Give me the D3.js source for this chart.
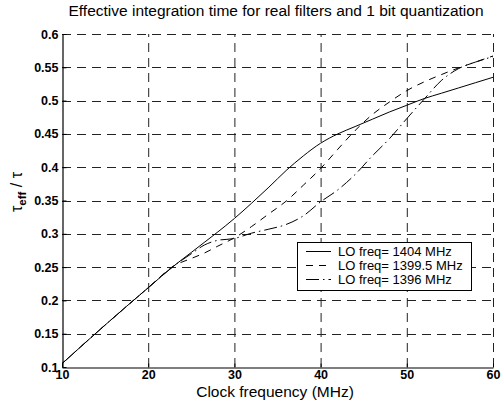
<!DOCTYPE html>
<html>
<head>
<meta charset="utf-8">
<script src="https://cdn.jsdelivr.net/npm/d3@7"></script>
<style>
  html, body { margin: 0; padding: 0; background: #fff; }
  svg { display: block; font-family: "Liberation Sans", Arial, sans-serif; }
</style>
</head>
<body>
<svg id="chart" width="503" height="406"></svg>
<script>
// ---- data ----
const freqMHz = [10, 15, 20, 23, 25, 26.5, 28, 30, 32, 34, 36, 38, 40, 42, 44, 46, 48, 50, 52, 54, 56, 58, 60];
const lo1404   = [0.105, 0.163, 0.219, 0.252, 0.272, 0.287, 0.302, 0.323, 0.346, 0.370, 0.395, 0.417, 0.436, 0.450, 0.461, 0.472, 0.483, 0.493, 0.503, 0.511, 0.519, 0.527, 0.535];
const lo1399_5 = [0.105, 0.163, 0.219, 0.252, 0.263, 0.271, 0.281, 0.294, 0.311, 0.330, 0.349, 0.373, 0.398, 0.427, 0.455, 0.479, 0.498, 0.515, 0.528, 0.539, 0.549, 0.558, 0.567];
const lo1396   = [0.105, 0.163, 0.219, 0.252, 0.270, 0.283, 0.290, 0.293, 0.301, 0.307, 0.314, 0.327, 0.348, 0.366, 0.389, 0.417, 0.443, 0.473, 0.502, 0.530, 0.548, 0.558, 0.566];
const seriesNames = ["LO freq= 1404 MHz", "LO freq= 1399.5 MHz", "LO freq= 1396 MHz"];
const xTicks = [10, 20, 30, 40, 50, 60];
const yTicks = [0.1, 0.15, 0.2, 0.25, 0.3, 0.35, 0.4, 0.45, 0.5, 0.55, 0.6];
const titleText = "Effective integration time for real filters and 1 bit quantization";
const xLabelText = "Clock frequency (MHz)";

// ---- layout ----
const L = 62, R = 493, T = 34, B = 367;
const svg = d3.select("#chart");
const x = d3.scaleLinear().domain([10, 60]).range([L, R]);
const y = d3.scaleLinear().domain([0.1, 0.6]).range([B, T]);

const styles = [
  { dash: null },
  { dash: "7,6" },
  { dash: "13,4,1.5,4" }
];

// grid
const grid = svg.append("g").attr("stroke", "#222").attr("stroke-width", 1).attr("stroke-dasharray", "9,6").attr("fill", "none");
xTicks.filter(t => t > 10).forEach(t => {
  grid.append("line").attr("x1", x(t) + 0.5).attr("x2", x(t) + 0.5).attr("y1", B).attr("y2", T);
});
yTicks.filter(t => t > 0.1).forEach(t => {
  grid.append("line").attr("x1", L).attr("x2", R).attr("y1", Math.round(y(t)) + 0.5).attr("y2", Math.round(y(t)) + 0.5);
});

// axes
const xAxis = d3.axisBottom(x).tickValues(xTicks).tickFormat(d3.format("d")).tickSizeInner(-4).tickSizeOuter(0).tickPadding(3);
const yAxis = d3.axisLeft(y).tickValues(yTicks).tickFormat(d => String(+d.toFixed(2))).tickSizeInner(-4).tickSizeOuter(0).tickPadding(4);

const gx = svg.append("g").attr("transform", `translate(0,${B + 0.5})`).call(xAxis);
const gy = svg.append("g").attr("transform", `translate(${L + 0.5},0)`).call(yAxis);
[gx, gy].forEach(g => {
  g.select(".domain").attr("stroke", "#000").attr("stroke-width", 1.2);
  g.selectAll(".tick line").attr("stroke", "#000");
  g.selectAll(".tick text").attr("fill", "#000").attr("font-size", 12.5).attr("font-weight", "bold")
    .attr("font-family", "'Liberation Sans', Arial, sans-serif");
});

// lines
const data = [lo1404, lo1399_5, lo1396];
const lineGen = d3.line().x(d => x(d[0])).y(d => y(d[1])).curve(d3.curveMonotoneX);
data.forEach((vals, i) => {
  const pts = freqMHz.map((f, j) => [f, vals[j]]);
  svg.append("path").datum(pts).attr("d", lineGen)
    .attr("fill", "none").attr("stroke", "#000").attr("stroke-width", 1)
    .attr("stroke-dasharray", styles[i].dash);
});

// legend
const lg = svg.append("g");
lg.append("rect").attr("x", 297.5).attr("y", 242.5).attr("width", 174).attr("height", 48)
  .attr("fill", "#fff").attr("stroke", "#000").attr("stroke-width", 1);
seriesNames.forEach((name, i) => {
  const yy = 251 + i * 14;
  lg.append("line").attr("x1", 306).attr("x2", 331).attr("y1", yy + 0.5).attr("y2", yy + 0.5)
    .attr("stroke", "#000").attr("stroke-width", 1).attr("stroke-dasharray", styles[i].dash);
  lg.append("text").attr("x", 338).attr("y", yy + 5).attr("font-size", 13).text(name);
});

// title
svg.append("text").attr("x", 276).attr("y", 16).attr("text-anchor", "middle")
  .attr("font-size", 15.5).text(titleText);

// x label
svg.append("text").attr("x", 275).attr("y", 397).attr("text-anchor", "middle")
  .attr("font-size", 15.5).text(xLabelText);

// y label: τ_eff / τ
const yl = svg.append("text").attr("transform", "translate(22,192) rotate(-90)")
  .attr("text-anchor", "middle").attr("font-size", 16);
yl.append("tspan").text("τ");
yl.append("tspan").attr("font-size", 11.5).attr("font-weight", "bold").attr("dy", 4).text("eff");
yl.append("tspan").attr("dy", -4).text(" / τ");
</script>
</body>
</html>
